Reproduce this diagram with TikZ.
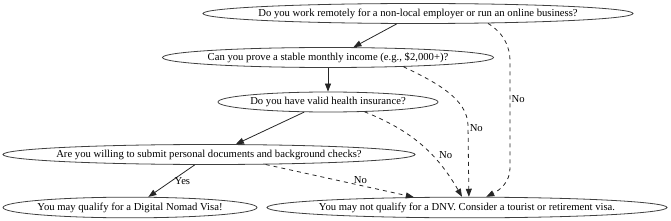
\documentclass[tikz,border=0pt]{standalone}
\usepackage{fontspec}
\setmainfont{Liberation Serif}
\usetikzlibrary{shapes.geometric,arrows.meta}
\newcommand{\ztext}[1]{\makebox[0pt]{#1}}
\begin{document}
\begin{tikzpicture}[x=0.75pt,y=-0.75pt,
  qnode/.style={ellipse,draw=black!75,line width=0.6pt,inner sep=0pt,minimum height=15pt,font=\fontsize{8}{9.5}\selectfont},
  yesedge/.style={draw=black!85,line width=0.6pt,-{Triangle[length=6pt,width=4.5pt]}},
  noedge/.style={yesedge,dash pattern=on 3pt off 3pt},
  lbl/.style={font=\fontsize{8}{9.5}\selectfont,inner sep=1pt}]
\useasboundingbox (0,0) rectangle (671,221);
\node[qnode,minimum width=322.5pt] (q1) at (418,13.5) {\ztext{Do you work remotely for a non-local employer or run an online business?}};
\node[qnode,minimum width=248.25pt] (q2) at (328,57.5) {\ztext{Can you prove a stable monthly income (e.g., \$2,000+)?}};
\node[qnode,minimum width=165pt] (q3) at (328,102) {\ztext{Do you have valid health insurance?}};
\node[qnode,minimum width=309pt] (q4) at (209,154.5) {\ztext{Are you willing to submit personal documents and background checks?}};
\node[qnode,minimum width=190.5pt,minimum height=15.5pt] (yes) at (130,207.5) {\ztext{You may qualify for a Digital Nomad Visa!}};
\node[qnode,minimum width=300pt,minimum height=15.5pt] (no) at (467,207.5) {\ztext{You may not qualify for a DNV. Consider a tourist or retirement visa.}};
% solid edges
\draw[yesedge] (q1.-154.5) -- (q2.22);
\draw[yesedge] (q2.south) -- (q3.north);
\draw[yesedge] (q3.-157) -- (q4.21);
\draw[yesedge] (q4.-144.5) -- node[lbl,pos=0.5,right=1pt]{Yes} (yes.30);
% dashed edges
\draw[noedge] (q1.-8.5) .. controls (503,33) and (510,45) .. (510,62) -- node[lbl,pos=0.35,right]{No} (510,168) .. controls (510,182) and (500,190) .. (no.29);
\draw[noedge] (q2.-7) .. controls (440,84) and (467,100) .. (468,125) -- node[lbl,pos=0.04,right]{No} (no.80);
\draw[noedge] (q3.-15.6) to[out=-22,in=120] node[lbl,pos=0.62,right=4pt]{No} (no.115);
\draw[noedge] (q4.-10.3) -- node[lbl,pos=0.64,above]{No} (no.169);
\end{tikzpicture}
\end{document}
